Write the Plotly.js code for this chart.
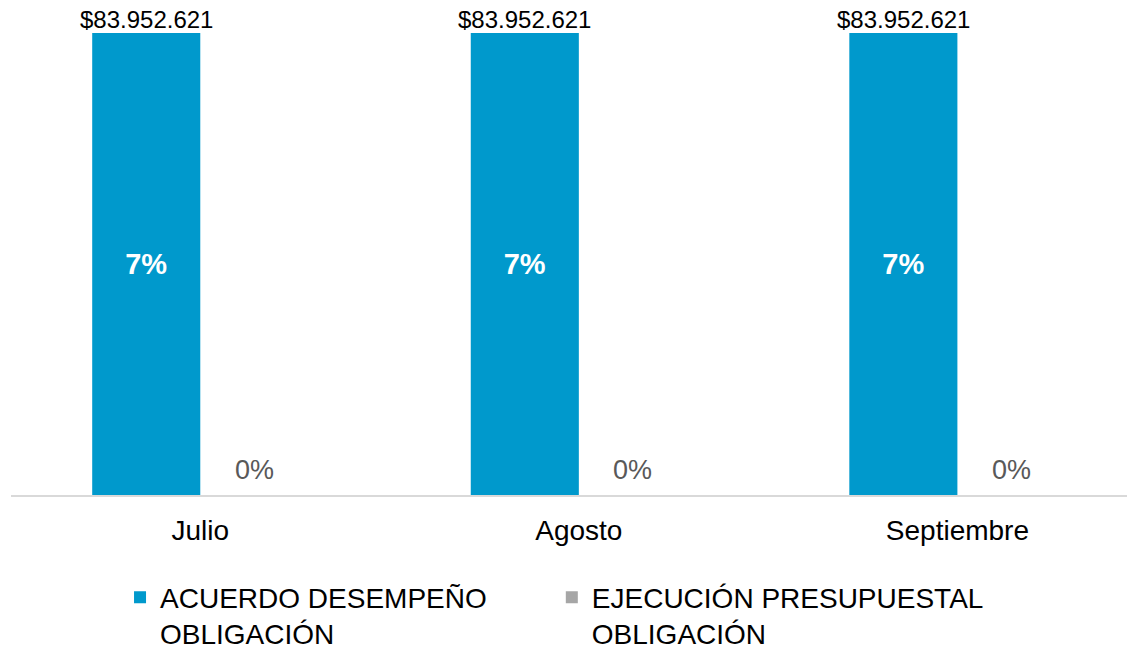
<!DOCTYPE html>
<html>
<head>
<meta charset="utf-8">
<script src="https://cdn.plot.ly/plotly-3.0.1.min.js"></script>
<style>html,body{margin:0;padding:0;background:#fff;}#chart{width:1127px;height:655px;}</style>
</head>
<body>
<div id="chart"></div>
<script>
const months = ["Julio", "Agosto", "Septiembre"];
const seriesNames = ["ACUERDO DESEMPEÑO<br>OBLIGACIÓN", "EJECUCIÓN PRESUPUESTAL<br>OBLIGACIÓN"];
const acuerdoPct = [0.07, 0.07, 0.07];
const ejecucionPct = [0, 0, 0];
const acuerdoLabels = ["7%", "7%", "7%"];
const ejecucionLabels = ["0%", "0%", "0%"];
const montoLabels = ["$83.952.621", "$83.952.621", "$83.952.621"];

const FONT = "Arial, 'Liberation Sans', sans-serif";

const traces = [
  {
    type: "bar", x: months, y: acuerdoPct, name: seriesNames[0],
    marker: {color: "#0099CC"},
    text: acuerdoLabels, textposition: "inside", insidetextanchor: "middle",
    textfont: {family: FONT, size: 29, color: "#FFFFFF", weight: "bold"},
    constraintext: "none", hoverinfo: "skip", legend: "legend"
  },
  {
    type: "bar", x: months, y: ejecucionPct, name: seriesNames[1],
    marker: {color: "#A6A6A6"},
    textposition: "none",
    hoverinfo: "skip", legend: "legend2"
  }
];

const annotations = months.map((m, i) => ({
  x: m, y: acuerdoPct[i], xref: "x", yref: "y",
  text: montoLabels[i], showarrow: false,
  xshift: -54, yanchor: "bottom", yshift: -2,
  font: {family: FONT, size: 24, color: "#000000"}
})).concat(months.map((m, i) => ({
  x: m, y: ejecucionPct[i], xref: "x", yref: "y",
  text: ejecucionLabels[i], showarrow: false,
  xshift: 54, yanchor: "bottom", yshift: 8,
  font: {family: FONT, size: 27, color: "#595959"}
})));

const legendCommon = {
  orientation: "h", xanchor: "left", yref: "container", y: 0.126, yanchor: "top",
  font: {family: FONT, size: 28, color: "#000000"},
  valign: "top", itemwidth: 30, bgcolor: "rgba(0,0,0,0)"
};

const layout = {
  width: 1127, height: 655,
  margin: {l: 11, r: 0, t: 10, b: 160, autoexpand: false},
  paper_bgcolor: "#FFFFFF", plot_bgcolor: "#FFFFFF",
  font: {family: FONT},
  barmode: "group", bargap: 0.429, bargroupgap: 0,
  showlegend: true,
  legend: Object.assign({}, legendCommon, {x: 0.0977}),
  legend2: Object.assign({}, legendCommon, {x: 0.4846}),
  xaxis: {
    type: "category", range: [-0.5, 2.448],
    showline: true, linecolor: "#D9D9D9", linewidth: 2,
    showgrid: false, zeroline: false, ticks: "",
    ticklabelstandoff: 9,
    tickfont: {family: FONT, size: 28, color: "#000000"}
  },
  yaxis: {
    range: [0, 0.07348], visible: false, showgrid: false, zeroline: false
  },
  annotations: annotations
};

Plotly.newPlot("chart", traces, layout, {displayModeBar: false, staticPlot: true});
</script>
</body>
</html>
